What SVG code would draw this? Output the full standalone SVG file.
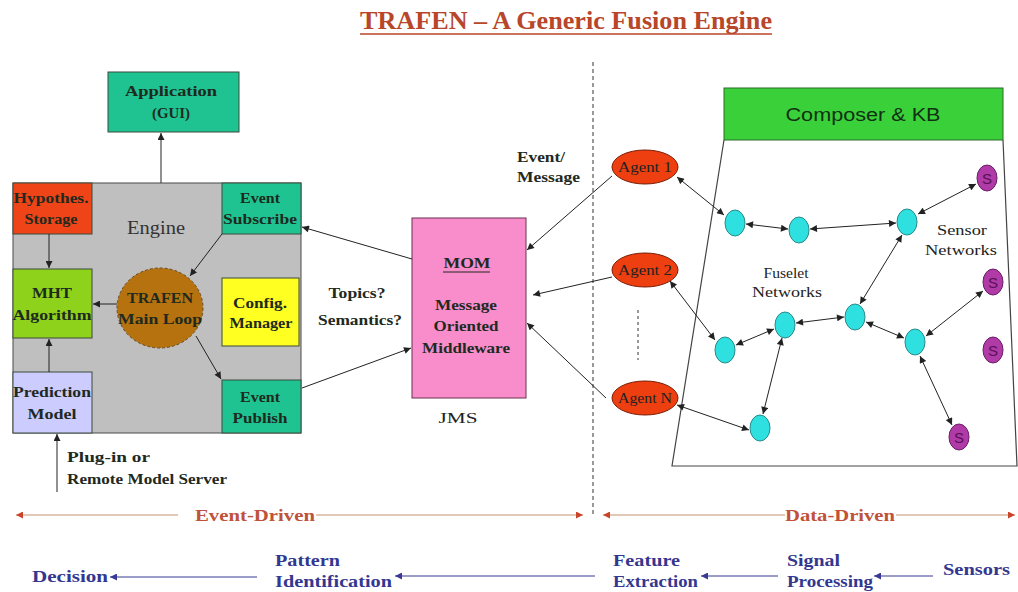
<svg xmlns="http://www.w3.org/2000/svg" width="1018" height="592" viewBox="0 0 1018 592">
  <style>
    .lbl { font-family: "Liberation Serif", "Times New Roman", serif; font-weight: bold; font-size: 14px; fill: #1e2a1e; text-anchor: middle; }
    .reg { font-family: "Liberation Serif", "Times New Roman", serif; font-size: 14px; fill: #222; text-anchor: middle; }
    .box { stroke: #3c4a3c; stroke-width: 1; }
    .teal { fill: #1fc391; }
    .dbl { stroke: #222; stroke-width: 1; fill: none; marker-start: url(#ah); marker-end: url(#ah); }
    .one { stroke: #222; stroke-width: 1; fill: none; marker-end: url(#ah); }
    .fus { fill: #2fe0e0; stroke: #2a8a8a; stroke-width: 1; }
    .sen { fill: #b03aa6; stroke: #6a1e66; stroke-width: 1; }
    .stxt { font-family: "Liberation Sans", Arial, sans-serif; font-size: 15px; fill: #5a1055; text-anchor: middle; }
    .agt { fill: #ee3f10; stroke: #7a1e08; stroke-width: 1; }
    .flow { font-family: "Liberation Serif", "Times New Roman", serif; font-weight: bold; font-size: 16px; fill: #33378f; }
    .drv { font-family: "Liberation Serif", "Times New Roman", serif; font-weight: bold; font-size: 16px; fill: #c0523a; }
  </style>
  <defs>
    <marker id="ah" viewBox="0 0 10 10" refX="10" refY="5" markerWidth="8" markerHeight="7" markerUnits="userSpaceOnUse" orient="auto-start-reverse">
      <path d="M0,0 L10,5 L0,10 z" fill="#222"/>
    </marker>
    <marker id="ahr" viewBox="0 0 10 10" refX="10" refY="5" markerWidth="9" markerHeight="7" markerUnits="userSpaceOnUse" orient="auto-start-reverse">
      <path d="M0,0 L10,5 L0,10 z" fill="#c8452a"/>
    </marker>
    <marker id="ahb" viewBox="0 0 10 10" refX="10" refY="5" markerWidth="9" markerHeight="7" markerUnits="userSpaceOnUse" orient="auto-start-reverse">
      <path d="M0,0 L10,5 L0,10 z" fill="#3a3a96"/>
    </marker>
  </defs>

  <rect width="1018" height="592" fill="#ffffff"/>

  <!-- title -->
  <g id="title">
    <text x="566" y="29" font-family="Liberation Serif, Times New Roman, serif" font-weight="bold" font-size="25" fill="#b8462a" text-anchor="middle" textLength="412" lengthAdjust="spacingAndGlyphs">TRAFEN – A Generic Fusion Engine</text>
    <line x1="360" y1="34" x2="772" y2="34" stroke="#b8462a" stroke-width="1.6"/>
  </g>

  <!-- separator between the two halves -->
  <line x1="593" y1="62" x2="593" y2="515" stroke="#333" stroke-width="1" stroke-dasharray="4,3"/>

  <!-- engine container -->
  <g id="engine">
    <rect x="13" y="183" width="288" height="250" fill="#bfbfbf" stroke="#4a4a4a" stroke-width="1"/>
    <text x="156" y="234" font-family="Liberation Serif, Times New Roman, serif" font-size="18" fill="#333" text-anchor="middle" textLength="58" lengthAdjust="spacingAndGlyphs">Engine</text>
  </g>

  <g id="application">
    <rect class="box teal" x="108" y="72" width="131" height="60"/>
    <text class="lbl" x="171" y="96" textLength="92" lengthAdjust="spacingAndGlyphs">Application</text>
    <text class="lbl" x="171" y="118" textLength="38" lengthAdjust="spacingAndGlyphs">(GUI)</text>
  </g>

  <g id="hypothes-storage">
    <rect class="box" x="13" y="183" width="79" height="51" fill="#ee4418"/>
    <text class="lbl" x="51" y="203" textLength="75" lengthAdjust="spacingAndGlyphs">Hypothes.</text>
    <text class="lbl" x="51" y="224" textLength="53" lengthAdjust="spacingAndGlyphs">Storage</text>
  </g>

  <g id="event-subscribe">
    <rect class="box teal" x="222" y="183" width="79" height="51"/>
    <text class="lbl" x="260" y="203" textLength="40" lengthAdjust="spacingAndGlyphs">Event</text>
    <text class="lbl" x="260" y="224" textLength="74" lengthAdjust="spacingAndGlyphs">Subscribe</text>
  </g>

  <g id="mht-algorithm">
    <rect class="box" x="13" y="269" width="79" height="69" fill="#8ed21c"/>
    <text class="lbl" x="52" y="298" textLength="40" lengthAdjust="spacingAndGlyphs">MHT</text>
    <text class="lbl" x="52" y="320" textLength="79" lengthAdjust="spacingAndGlyphs">Algorithm</text>
  </g>

  <g id="main-loop">
    <ellipse cx="160" cy="308" rx="43" ry="40" fill="#b5720f" stroke="#6a4a20" stroke-width="1" stroke-dasharray="3,2"/>
    <text class="lbl" x="160" y="303" textLength="66" lengthAdjust="spacingAndGlyphs">TRAFEN</text>
    <text class="lbl" x="160" y="324" textLength="84" lengthAdjust="spacingAndGlyphs">Main Loop</text>
  </g>

  <g id="config-manager">
    <rect class="box" x="222" y="278" width="77" height="68" fill="#ffff22"/>
    <text class="lbl" x="260" y="308" textLength="54" lengthAdjust="spacingAndGlyphs">Config.</text>
    <text class="lbl" x="261" y="328" textLength="63" lengthAdjust="spacingAndGlyphs">Manager</text>
  </g>

  <g id="prediction-model">
    <rect class="box" x="13" y="372" width="79" height="61" fill="#ccccff"/>
    <text class="lbl" x="52" y="397" textLength="78" lengthAdjust="spacingAndGlyphs">Prediction</text>
    <text class="lbl" x="52" y="419" textLength="49" lengthAdjust="spacingAndGlyphs">Model</text>
  </g>

  <g id="event-publish">
    <rect class="box teal" x="222" y="380" width="79" height="53"/>
    <text class="lbl" x="260" y="402" textLength="40" lengthAdjust="spacingAndGlyphs">Event</text>
    <text class="lbl" x="260" y="423" textLength="55" lengthAdjust="spacingAndGlyphs">Publish</text>
  </g>

  <g id="plug-in-note">
    <text class="lbl" x="67" y="462" style="text-anchor:start" textLength="83" lengthAdjust="spacingAndGlyphs">Plug-in   or</text>
    <text class="lbl" x="67" y="484" style="text-anchor:start" textLength="160" lengthAdjust="spacingAndGlyphs">Remote Model Server</text>
  </g>

  <g id="mom">
    <rect x="412" y="218" width="114" height="180" fill="#f98dcc" stroke="#6a3050" stroke-width="1"/>
    <text class="lbl" x="467" y="268" textLength="47" lengthAdjust="spacingAndGlyphs">MOM</text>
    <line x1="443" y1="272" x2="490" y2="272" stroke="#1e2a1e" stroke-width="1"/>
    <text class="lbl" x="466" y="310" textLength="62" lengthAdjust="spacingAndGlyphs">Message</text>
    <text class="lbl" x="466" y="331" textLength="65" lengthAdjust="spacingAndGlyphs">Oriented</text>
    <text class="lbl" x="466" y="353" textLength="88" lengthAdjust="spacingAndGlyphs">Middleware</text>
    <text class="reg" x="458" y="423" textLength="39" lengthAdjust="spacingAndGlyphs">JMS</text>
  </g>

  <g id="topics-note">
    <text class="lbl" x="357" y="298" textLength="57" lengthAdjust="spacingAndGlyphs">Topics?</text>
    <text class="lbl" x="360" y="325" textLength="84" lengthAdjust="spacingAndGlyphs">Semantics?</text>
  </g>

  <g id="event-message-note">
    <text class="lbl" x="517" y="162" style="text-anchor:start" textLength="48" lengthAdjust="spacingAndGlyphs">Event/</text>
    <text class="lbl" x="517" y="182" style="text-anchor:start" textLength="63" lengthAdjust="spacingAndGlyphs">Message</text>
  </g>

  <!-- agents -->
  <g id="agent-1">
    <ellipse class="agt" cx="645" cy="167" rx="33" ry="17"/>
    <text class="reg" x="645" y="172" textLength="54" lengthAdjust="spacingAndGlyphs">Agent 1</text>
  </g>
  <g id="agent-2">
    <ellipse class="agt" cx="645" cy="270" rx="33" ry="17"/>
    <text class="reg" x="645" y="275" textLength="54" lengthAdjust="spacingAndGlyphs">Agent 2</text>
  </g>
  <g id="agent-n">
    <ellipse class="agt" cx="645" cy="398" rx="33" ry="17"/>
    <text class="reg" x="645" y="403" textLength="54" lengthAdjust="spacingAndGlyphs">Agent N</text>
  </g>
  <line x1="638" y1="310" x2="638" y2="360" stroke="#333" stroke-width="1" stroke-dasharray="3,3"/>

  <!-- composer and fuselet area -->
  <g id="composer">
    <path d="M724,140 L672,466 L1017,466 L1003,140" fill="#ffffff" stroke="#444" stroke-width="1.2"/>
    <rect x="724" y="88" width="279" height="52" fill="#3ad03a" stroke="#2a6a2a" stroke-width="1"/>
    <text x="863" y="121" font-family="Liberation Sans, Arial, sans-serif" font-size="18" fill="#123012" text-anchor="middle" textLength="155" lengthAdjust="spacingAndGlyphs">Composer &amp; KB</text>
  </g>

  <g id="network-labels">
    <text class="reg" x="786" y="278" textLength="45" lengthAdjust="spacingAndGlyphs">Fuselet</text>
    <text class="reg" x="787" y="297" textLength="70" lengthAdjust="spacingAndGlyphs">Networks</text>
    <text class="reg" x="962" y="235" textLength="50" lengthAdjust="spacingAndGlyphs">Sensor</text>
    <text class="reg" x="961" y="255" textLength="72" lengthAdjust="spacingAndGlyphs">Networks</text>
  </g>

  <!-- connectors -->
  <g id="connectors">
    <line class="one" x1="161" y1="183" x2="161" y2="133"/>
    <line class="one" x1="49" y1="234" x2="49" y2="268"/>
    <line class="one" x1="49" y1="372" x2="49" y2="339"/>
    <line class="one" x1="117" y1="304" x2="93" y2="304"/>
    <line class="one" x1="222" y1="234" x2="190" y2="276"/>
    <line class="one" x1="196" y1="336" x2="221" y2="379"/>
    <line class="one" x1="57" y1="492" x2="57" y2="434"/>
    <line class="one" x1="412" y1="259" x2="302" y2="227"/>
    <line class="one" x1="302" y1="388" x2="411" y2="348"/>
    <line class="one" x1="612" y1="176" x2="527" y2="250"/>
    <line class="one" x1="612" y1="277" x2="533" y2="295"/>
    <line class="one" x1="606" y1="398" x2="527" y2="323"/>

    <line class="dbl" x1="677" y1="177" x2="724" y2="215"/>
    <line class="dbl" x1="746" y1="224" x2="788" y2="229"/>
    <line class="dbl" x1="810" y1="229" x2="896" y2="223"/>
    <line class="dbl" x1="918" y1="214" x2="976" y2="184"/>
    <line class="dbl" x1="902" y1="235" x2="860" y2="304"/>
    <line class="dbl" x1="670" y1="281" x2="715" y2="340"/>
    <line class="dbl" x1="736" y1="345" x2="774" y2="329"/>
    <line class="dbl" x1="796" y1="323" x2="844" y2="317"/>
    <line class="dbl" x1="866" y1="322" x2="904" y2="338"/>
    <line class="dbl" x1="926" y1="336" x2="983" y2="291"/>
    <line class="dbl" x1="920" y1="356" x2="952" y2="425"/>
    <line class="dbl" x1="782" y1="338" x2="763" y2="414"/>
    <line class="dbl" x1="677" y1="405" x2="749" y2="430"/>
  </g>

  <!-- fuselet nodes -->
  <g id="fuselet-1"><ellipse class="fus" cx="735" cy="223" rx="10" ry="13"/></g>
  <g id="fuselet-2"><ellipse class="fus" cx="799" cy="230" rx="10" ry="13"/></g>
  <g id="fuselet-3"><ellipse class="fus" cx="907" cy="222" rx="10" ry="13"/></g>
  <g id="fuselet-4"><ellipse class="fus" cx="725" cy="350" rx="10" ry="13"/></g>
  <g id="fuselet-5"><ellipse class="fus" cx="785" cy="325" rx="10" ry="13"/></g>
  <g id="fuselet-6"><ellipse class="fus" cx="855" cy="317" rx="10" ry="13"/></g>
  <g id="fuselet-7"><ellipse class="fus" cx="915" cy="342" rx="10" ry="13"/></g>
  <g id="fuselet-8"><ellipse class="fus" cx="760" cy="428" rx="10" ry="13"/></g>

  <!-- sensor nodes -->
  <g id="sensor-1"><ellipse class="sen" cx="987" cy="178" rx="10" ry="13"/><text class="stxt" x="987" y="184">S</text></g>
  <g id="sensor-2"><ellipse class="sen" cx="993" cy="282" rx="10" ry="13"/><text class="stxt" x="993" y="288">S</text></g>
  <g id="sensor-3"><ellipse class="sen" cx="993" cy="350" rx="10" ry="13"/><text class="stxt" x="993" y="356">S</text></g>
  <g id="sensor-4"><ellipse class="sen" cx="959" cy="437" rx="10" ry="13"/><text class="stxt" x="959" y="443">S</text></g>

  <!-- event-driven / data-driven span -->
  <g id="drive-axis">
    <line x1="178" y1="515" x2="16" y2="515" stroke="#c89070" stroke-width="1.2" marker-end="url(#ahr)"/>
    <line x1="316" y1="515" x2="583" y2="515" stroke="#c89070" stroke-width="1.2" marker-end="url(#ahr)"/>
    <text class="drv" x="195" y="521" textLength="120" lengthAdjust="spacingAndGlyphs">Event-Driven</text>
    <line x1="785" y1="515" x2="603" y2="515" stroke="#c89070" stroke-width="1.2" marker-end="url(#ahr)"/>
    <line x1="896" y1="515" x2="1015" y2="515" stroke="#c89070" stroke-width="1.2" marker-end="url(#ahr)"/>
    <text class="drv" x="785" y="521" textLength="110" lengthAdjust="spacingAndGlyphs">Data-Driven</text>
  </g>

  <!-- processing chain -->
  <g id="chain">
    <text class="flow" x="32" y="582" textLength="76" lengthAdjust="spacingAndGlyphs">Decision</text>
    <text class="flow" x="275" y="566" textLength="65" lengthAdjust="spacingAndGlyphs">Pattern</text>
    <text class="flow" x="275" y="587" textLength="117" lengthAdjust="spacingAndGlyphs">Identification</text>
    <text class="flow" x="613" y="566" textLength="67" lengthAdjust="spacingAndGlyphs">Feature</text>
    <text class="flow" x="613" y="587" textLength="85" lengthAdjust="spacingAndGlyphs">Extraction</text>
    <text class="flow" x="787" y="566" textLength="53" lengthAdjust="spacingAndGlyphs">Signal</text>
    <text class="flow" x="787" y="587" textLength="86" lengthAdjust="spacingAndGlyphs">Processing</text>
    <text class="flow" x="943" y="575" textLength="67" lengthAdjust="spacingAndGlyphs">Sensors</text>
    <line x1="257" y1="577" x2="110" y2="577" stroke="#3a3a96" stroke-width="1.2" marker-end="url(#ahb)"/>
    <line x1="595" y1="576" x2="395" y2="576" stroke="#3a3a96" stroke-width="1.2" marker-end="url(#ahb)"/>
    <line x1="778" y1="576" x2="701" y2="576" stroke="#3a3a96" stroke-width="1.2" marker-end="url(#ahb)"/>
    <line x1="933" y1="576" x2="874" y2="576" stroke="#3a3a96" stroke-width="1.2" marker-end="url(#ahb)"/>
  </g>
</svg>
